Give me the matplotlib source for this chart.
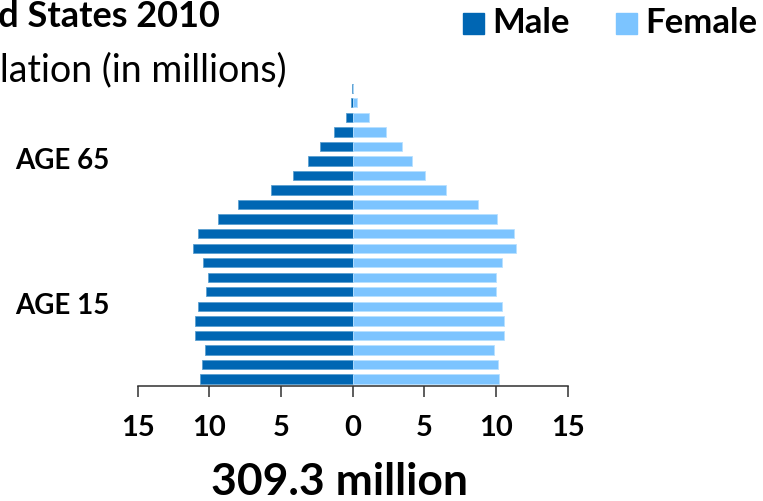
import numpy as np
import matplotlib
matplotlib.use("Agg")
import matplotlib.pyplot as plt
from matplotlib.patches import Rectangle

plt.rcParams['font.family'] = ['Lato', 'DejaVu Sans']

# 2010 population by 5-year age group, youngest first (millions)
age_groups = ['0-4', '5-9', '10-14', '15-19', '20-24', '25-29', '30-34',
              '35-39', '40-44', '45-49', '50-54', '55-59', '60-64', '65-69',
              '70-74', '75-79', '80-84', '85-89', '90-94', '95-99', '100+']
male = [10.66, 10.54, 10.31, 11.03, 10.98, 10.77, 10.21, 10.10, 10.42, 11.12,
        10.80, 9.42, 8.00, 5.72, 4.19, 3.14, 2.28, 1.28, 0.47, 0.14, 0.02]
female = [10.20, 10.11, 9.88, 10.53, 10.58, 10.43, 9.97, 9.99, 10.43, 11.39,
          11.23, 10.04, 8.72, 6.49, 5.02, 4.12, 3.42, 2.35, 1.10, 0.30, 0.05]
x_ticks = [-15, -10, -5, 0, 5, 10, 15]
age_marks = {'AGE 65': '75-79', 'AGE 15': '25-29'}

MALE_C = '#0066B3'
FEMALE_C = '#7CC4FF'

fig = plt.figure(figsize=(7.63, 5.01), dpi=100)
ax = fig.add_axes([0.1805, 0.2301, 0.5636, 0.6082])

y = np.arange(len(age_groups))
ax.barh(y, -np.array(male), height=0.64, color=MALE_C,
        edgecolor='#5c9fd0', linewidth=0.6)
ax.barh(y, female, height=0.64, color=FEMALE_C,
        edgecolor='#b8e0ff', linewidth=0.6)

ax.set_xlim(-15, 15)
ax.set_ylim(-0.461, 20.5)
for s in ['top', 'left', 'right']:
    ax.spines[s].set_visible(False)
ax.spines['bottom'].set_color('#303030')
ax.spines['bottom'].set_linewidth(1.1)
ax.set_yticks([])
ax.set_xticks(x_ticks)
ax.set_xticklabels([str(abs(t)) for t in x_ticks], fontsize=21,
                   fontweight='bold')
ax.tick_params(axis='x', direction='out', length=8, width=1.1,
               color='#303030', pad=13)

# age markers on the left
for txt, grp in age_marks.items():
    yi = age_groups.index(grp)
    ax.text(15 / 763, ax.transData.transform((0, yi))[1] / 501, txt,
            transform=fig.transFigure, ha='left', va='center',
            fontsize=20, fontweight='bold')

# titles (wider than the left margin, so they run off the edge)
fig.text(220 / 763, 1 - 27 / 501, 'United States 2010', ha='right',
         va='baseline', fontsize=26, fontweight='bold')
fig.text(287 / 763, 1 - 82 / 501, 'Population (in millions)', ha='right',
         va='baseline', fontsize=27)

# legend
for x0, col, lab in [(463, MALE_C, 'Male'), (616, FEMALE_C, 'Female')]:
    fig.patches.append(Rectangle((x0 / 763, 1 - 34 / 501), 21 / 763,
                                 21 / 501, transform=fig.transFigure,
                                 color=col))
    fig.text((x0 + 29) / 763, 1 - 33 / 501, lab, ha='left', va='baseline',
             fontsize=25, fontweight='bold')

fig.text(339.5 / 763, 1 - 495 / 501, f'{309.3} million', ha='center',
         va='baseline', fontsize=32, fontweight='bold')

fig.savefig('out.png', dpi=100)
